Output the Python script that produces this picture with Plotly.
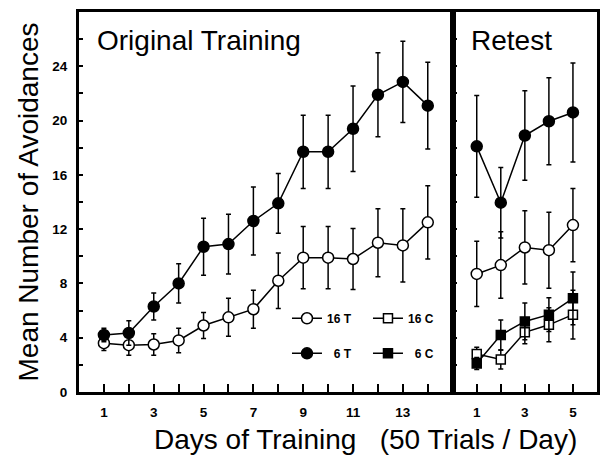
import plotly.graph_objects as go

# ---------------- data ----------------
days_train = [1, 2, 3, 4, 5, 6, 7, 8, 9, 10, 11, 12, 13, 14]
t16_train = [3.6, 3.45, 3.5, 3.8, 4.9, 5.5, 6.1, 8.2, 9.9, 9.9, 9.8, 11.0, 10.8, 12.5]
t16_train_err = [0.55, 0.75, 0.8, 0.9, 0.95, 1.4, 1.4, 2.05, 2.3, 2.3, 2.25, 2.5, 2.7, 2.7]
t6_train = [4.2, 4.35, 6.3, 8.0, 10.7, 10.9, 12.6, 13.9, 17.7, 17.7, 19.4, 21.9, 22.85, 21.1]
t6_train_err = [0.5, 0.9, 1.0, 1.45, 2.1, 2.2, 2.5, 2.2, 2.7, 2.7, 3.15, 3.1, 3.0, 3.2]

days_retest = [1, 2, 3, 4, 5]
t6_retest = [18.1, 13.95, 18.9, 19.95, 20.6]
t6_retest_err = [3.75, 2.6, 3.3, 3.2, 3.65]
t16_retest = [8.7, 9.35, 10.65, 10.45, 12.3]
t16_retest_err = [2.4, 2.45, 2.7, 2.8, 2.7]
c6_retest = [2.1, 4.2, 5.2, 5.7, 6.9]
c6_retest_err = [0.45, 1.1, 1.35, 1.25, 1.95]
c16_retest = [2.8, 2.4, 4.4, 4.95, 5.7]
c16_retest_err = [0.5, 0.7, 0.85, 1.25, 1.8]

train_ticks = list(range(1, 15))
train_ticktext = [str(d) if d % 2 == 1 else "" for d in train_ticks]
retest_ticks = [1, 2, 3, 4, 5]
retest_ticktext = ["1", "", "3", "", "5"]
y_ticks = [0, 4, 8, 12, 16, 20, 24]

FONT = "Arial, Liberation Sans, sans-serif"
BLACK = "black"

def err(arr):
    return dict(type="data", array=arr, visible=True, color=BLACK, thickness=1.5, width=2.5)

def series(x, y, e, name, symbol, fill, size, xa, ya, legend, showlegend):
    return go.Scatter(
        x=x, y=y, error_y=err(e), name=name, mode="lines+markers",
        line=dict(color=BLACK, width=1.5),
        marker=dict(symbol=symbol, size=size, color=fill, line=dict(color=BLACK, width=1.5)),
        xaxis=xa, yaxis=ya, legend=legend, showlegend=showlegend, cliponaxis=False,
    )

fig = go.Figure()
# Original training
fig.add_trace(series(days_train, t16_train, t16_train_err, "16 T", "circle", "white", 11, "x", "y", "legend", True))
fig.add_trace(series(days_train, t6_train, t6_train_err, "\u20076 T", "circle", BLACK, 11, "x", "y", "legend2", True))
# Retest
fig.add_trace(series(days_retest, t16_retest, t16_retest_err, "16 T", "circle", "white", 11, "x2", "y2", "legend", False))
fig.add_trace(series(days_retest, t6_retest, t6_retest_err, "6 T", "circle", BLACK, 11, "x2", "y2", "legend2", False))
fig.add_trace(series(days_retest, c16_retest, c16_retest_err, "16 C", "square", "white", 9, "x2", "y2", "legend", True))
fig.add_trace(series(days_retest, c6_retest, c6_retest_err, "\u20076 C", "square", BLACK, 9, "x2", "y2", "legend2", True))

axis_common = dict(showline=True, linecolor=BLACK, linewidth=3, mirror=True, showgrid=False,
                   zeroline=False, tickcolor=BLACK, tickwidth=1.5, automargin=False,
                   tickfont=dict(family=FONT, size=13.5, color=BLACK, weight="bold"))

legend_common = dict(orientation="h", xanchor="left", yanchor="middle", entrywidth=36,
                     entrywidthmode="pixels", bgcolor="rgba(0,0,0,0)", itemwidth=30,
                     font=dict(family=FONT, size=12, color=BLACK, weight="bold"), traceorder="normal")

fig.update_layout(
    width=600, height=457,
    margin=dict(l=79, r=3, t=12, b=65, autoexpand=False),
    paper_bgcolor="white", plot_bgcolor="white",
    font=dict(family=FONT, color=BLACK),
    xaxis=dict(domain=[0, 0.7214], range=[0, 15], tickvals=train_ticks, ticktext=train_ticktext,
               ticks="inside", ticklen=8, ticklabelstandoff=6, anchor="y", **axis_common),
    xaxis2=dict(domain=[0.7214, 1], range=[0, 6], tickvals=retest_ticks, ticktext=retest_ticktext,
                ticks="inside", ticklen=8, ticklabelstandoff=6, anchor="y2", **axis_common),
    yaxis=dict(range=[0, 28], tickvals=y_ticks, ticks="inside", ticklen=4, anchor="x",
               minor=dict(dtick=2, tick0=0, ticks="inside", ticklen=4, tickcolor=BLACK, tickwidth=1.5),
               ticklabelstandoff=6,
               title=dict(text="Mean Number of Avoidances", font=dict(family=FONT, size=28, color=BLACK), standoff=6),
               **axis_common),
    yaxis2=dict(range=[0, 28], matches="y", anchor="x2", tickvals=list(range(0, 28, 2)), ticks="inside",
                ticklen=4, showticklabels=False, **axis_common),
    legend=dict(x=0.4015, y=0.194, **legend_common),
    legend2=dict(x=0.4015, y=0.1018, **legend_common),
    annotations=[
        dict(text="Original Training", xref="paper", yref="paper", x=0.031, y=0.9237,
             xanchor="left", yanchor="middle", showarrow=False,
             font=dict(family=FONT, size=28, color=BLACK)),
        dict(text="Retest", xref="paper", yref="paper", x=0.752, y=0.9237,
             xanchor="left", yanchor="middle", showarrow=False,
             font=dict(family=FONT, size=28, color=BLACK)),
        dict(text="Days of Training\u00a0\u00a0 (50 Trials / Day)", xref="paper", yref="paper",
             x=(365 - 79) / 518, y=-0.126, xanchor="center", yanchor="middle", showarrow=False,
             font=dict(family=FONT, size=28, color=BLACK)),
    ],
)

fig.write_html("out.html", config={"displayModeBar": False},
               post_script="document.body.style.margin='0';document.body.style.padding='0';")
